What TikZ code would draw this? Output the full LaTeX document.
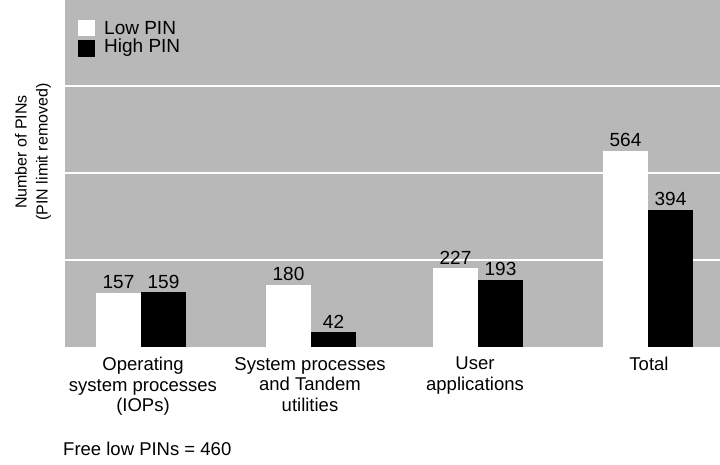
\documentclass[tikz,border=0pt]{standalone}
\usepackage{fontspec}
\setmainfont{Liberation Sans}
\definecolor{plotgray}{gray}{0.72}
\begin{document}
\begin{tikzpicture}[x=1pt,y=-1pt,
  lowbar/.style={fill=white},
  highbar/.style={fill=black},
  gridline/.style={white,line width=2.5pt},
  vallabel/.style={font=\fontsize{19}{20}\selectfont,anchor=south,inner sep=0pt},
  catlabel/.style={font=\fontsize{18.5}{20.5}\selectfont,align=center,anchor=north,inner sep=0pt},
  legtext/.style={font=\fontsize{19}{20}\selectfont,anchor=west,inner sep=0pt},
  axlabel/.style={font=\fontsize{16}{21}\selectfont,align=center,rotate=90,inner sep=0pt}]
\useasboundingbox (0,0) rectangle (720,465);
% plot area
\fill[plotgray] (65,0) rectangle (720,347);
\foreach \g in {86,173,260} \draw[gridline] (65,\g) -- (720,\g);
% bars
\def\s{0.347}
\fill[lowbar]  (96,347)  rectangle (141,{347-157*\s});
\fill[highbar] (141,347) rectangle (186,{347-159*\s});
\fill[lowbar]  (266,347) rectangle (311,{347-180*\s});
\fill[highbar] (311,347) rectangle (356,{347-42*\s});
\fill[lowbar]  (433,347) rectangle (478,{347-227*\s});
\fill[highbar] (478,347) rectangle (523,{347-193*\s});
\fill[lowbar]  (603,347) rectangle (648,{347-564*\s});
\fill[highbar] (648,347) rectangle (693,{347-394*\s});
% value labels
\node[vallabel] (v1) at (118.5,{343-157*\s}) {157};
\node[vallabel] (v2) at (163.5,{343-157*\s}) {159};
\node[vallabel] (v3) at (288.5,{343-180*\s}) {180};
\node[vallabel] (v4) at (333.5,{343-42*\s}) {42};
\node[vallabel] (v5) at (455.5,{343-227*\s}) {227};
\node[vallabel] (v6) at (500.5,{343-193*\s}) {193};
\node[vallabel] (v7) at (625.5,{343-564*\s}) {564};
\node[vallabel] (v8) at (670.5,{343-394*\s}) {394};
% legend
\fill[white] (78,20) rectangle (95,36);
\fill[black] (78,40) rectangle (95,57);
\node[legtext] (lowleg) at (104,28) {Low PIN};
\node[legtext] (highleg) at (104,48) {High PIN};
% category labels
\node[catlabel] (c1) at (143,357) {Operating\\system processes\\(IOPs)};
\node[catlabel] (c2) at (310,357) {System processes\\and Tandem\\utilities};
\node[catlabel] (c3) at (475,357) {User\\applications};
\node[catlabel] (c4) at (649,357) {Total};
% axis label
\node[axlabel] (ylab) at (33,152) {Number of PINs\\(PIN limit removed)};
% footnote
\node[legtext,font=\fontsize{18.5}{20}\selectfont] (free) at (63,449) {Free low PINs = 460};
\end{tikzpicture}
\end{document}
